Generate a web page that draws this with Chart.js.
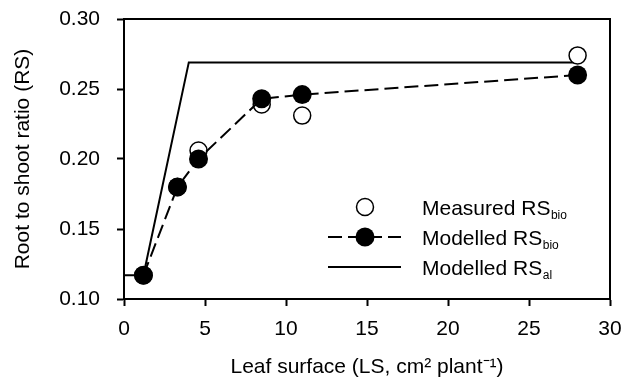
<!DOCTYPE html>
<html>
<head>
<meta charset="utf-8">
<script src="https://cdn.jsdelivr.net/npm/chart.js@4.4.1/dist/chart.umd.min.js"></script>
<style>
  html, body { margin: 0; padding: 0; background: #fff; }
  #wrap { width: 626px; height: 383px; }
</style>
</head>
<body>
<div id="wrap"><canvas id="rsChart" width="626" height="383"></canvas></div>
<script>
// leaf surface (cm2 plant-1) and root to shoot ratios
const measuredLS = [1.2, 3.3, 4.6, 8.5, 11.0, 28.0];
const measuredRS = [0.117, 0.180, 0.206, 0.239, 0.231, 0.274];
const modelBioLS = [1.2, 3.3, 4.6, 8.5, 11.0, 28.0];
const modelBioRS = [0.117, 0.180, 0.200, 0.243, 0.246, 0.260];
const modelAlLS = [0, 1.2, 4.0, 28.0];
const modelAlRS = [0.117, 0.117, 0.269, 0.269];
const xTicks = [0, 5, 10, 15, 20, 25, 30];
const yTicks = [0.10, 0.15, 0.20, 0.25, 0.30];

const FONT = 'Liberation Sans, Arial, Helvetica, sans-serif';
const FS = 21;

function toPoints(xs, ys) {
    return xs.map((x, i) => ({ x: x, y: ys[i] }));
}

// box around the plot area
const frame = {
    id: 'frame',
    afterDraw(chart) {
        const { ctx, chartArea: a } = chart;
        ctx.save();
        ctx.strokeStyle = '#000';
        ctx.lineWidth = 2;
        ctx.strokeRect(a.left, a.top, a.right - a.left, a.bottom - a.top);
        ctx.restore();
    }
};

// legend with subscripts, drawn by hand
const subLegend = {
    id: 'subLegend',
    afterDraw(chart) {
        const ctx = chart.ctx;
        const rows = [
            { name: 'Measured RS', sub: 'bio', kind: 'open', y: 207 },
            { name: 'Modelled RS', sub: 'bio', kind: 'dash', y: 237 },
            { name: 'Modelled RS', sub: 'al', kind: 'line', y: 267 }
        ];
        ctx.save();
        rows.forEach(r => {
            ctx.strokeStyle = '#000';
            ctx.fillStyle = '#000';
            if (r.kind !== 'open') {
                ctx.lineWidth = 2;
                ctx.setLineDash(r.kind === 'dash' ? [14, 6] : []);
                ctx.beginPath();
                ctx.moveTo(328, r.y);
                ctx.lineTo(401, r.y);
                ctx.stroke();
                ctx.setLineDash([]);
            }
            if (r.kind === 'open') {
                ctx.fillStyle = '#fff';
                ctx.lineWidth = 1.5;
                ctx.beginPath();
                ctx.arc(365, r.y, 8.5, 0, Math.PI * 2);
                ctx.fill();
                ctx.stroke();
            }
            if (r.kind === 'dash') {
                ctx.beginPath();
                ctx.arc(365, r.y, 9.5, 0, Math.PI * 2);
                ctx.fill();
            }
            ctx.fillStyle = '#000';
            ctx.textBaseline = 'alphabetic';
            ctx.textAlign = 'left';
            ctx.font = FS + 'px ' + FONT;
            ctx.fillText(r.name, 422, r.y + 8);
            const w = ctx.measureText(r.name).width;
            ctx.font = '12px ' + FONT;
            ctx.fillText(r.sub, 422 + w + 0.5, r.y + 11.5);
        });
        ctx.restore();
    }
};

const ctxRs = document.getElementById('rsChart').getContext('2d');

window.rsChart = new Chart(ctxRs, {
    type: 'scatter',
    data: {
        datasets: [
            {
                label: 'Modelled RSbio',
                data: toPoints(modelBioLS, modelBioRS),
                showLine: true,
                borderColor: '#000',
                borderWidth: 2,
                borderDash: [14, 6],
                backgroundColor: '#000',
                pointRadius: 9.5,
                pointBorderWidth: 0,
                pointBackgroundColor: '#000'
            },
            {
                label: 'Measured RSbio',
                data: toPoints(measuredLS, measuredRS),
                showLine: false,
                pointRadius: 8.5,
                pointBorderWidth: 1.5,
                pointBorderColor: '#000',
                pointBackgroundColor: '#fff'
            },
            {
                label: 'Modelled RSal',
                data: toPoints(modelAlLS, modelAlRS),
                showLine: true,
                borderColor: '#000',
                borderWidth: 2,
                pointRadius: 0
            }
        ]
    },
    options: {
        responsive: false,
        animation: false,
        events: [],
        layout: { padding: { top: 19, right: 16, bottom: 0, left: 0 } },
        plugins: {
            legend: { display: false },
            tooltip: { enabled: false }
        },
        scales: {
            x: {
                type: 'linear',
                min: 0,
                max: 30,
                afterBuildTicks: scale => { scale.ticks = xTicks.map(v => ({ value: v })); },
                afterFit: scale => {
                    scale.height = 84;
                    scale.paddingLeft = 0;
                    scale.paddingRight = 0;
                },
                border: { color: '#000', width: 2 },
                grid: { drawOnChartArea: false, drawTicks: true, tickLength: 7, tickColor: '#000', tickWidth: 2 },
                ticks: { color: '#000', padding: 11, maxRotation: 0, font: { family: FONT, size: FS } },
                title: {
                    display: true,
                    text: 'Leaf surface (LS, cm² plant⁻¹)',
                    color: '#000',
                    font: { family: FONT, size: FS },
                    padding: { top: 0, bottom: 3 }
                }
            },
            y: {
                type: 'linear',
                min: 0.10,
                max: 0.30,
                afterBuildTicks: scale => { scale.ticks = yTicks.map(v => ({ value: v })); },
                afterFit: scale => {
                    scale.width = 124;
                    scale.paddingTop = 0;
                    scale.paddingBottom = 0;
                },
                border: { color: '#000', width: 2 },
                grid: { drawOnChartArea: false, drawTicks: true, tickLength: 7, tickColor: '#000', tickWidth: 2 },
                ticks: {
                    color: '#000',
                    padding: 17,
                    font: { family: FONT, size: FS },
                    callback: v => v.toFixed(2)
                },
                title: {
                    display: true,
                    text: 'Root to shoot ratio (RS)',
                    color: '#000',
                    font: { family: FONT, size: FS },
                    padding: { top: 11, bottom: 0 }
                }
            }
        }
    },
    plugins: [frame, subLegend]
});
</script>
</body>
</html>
